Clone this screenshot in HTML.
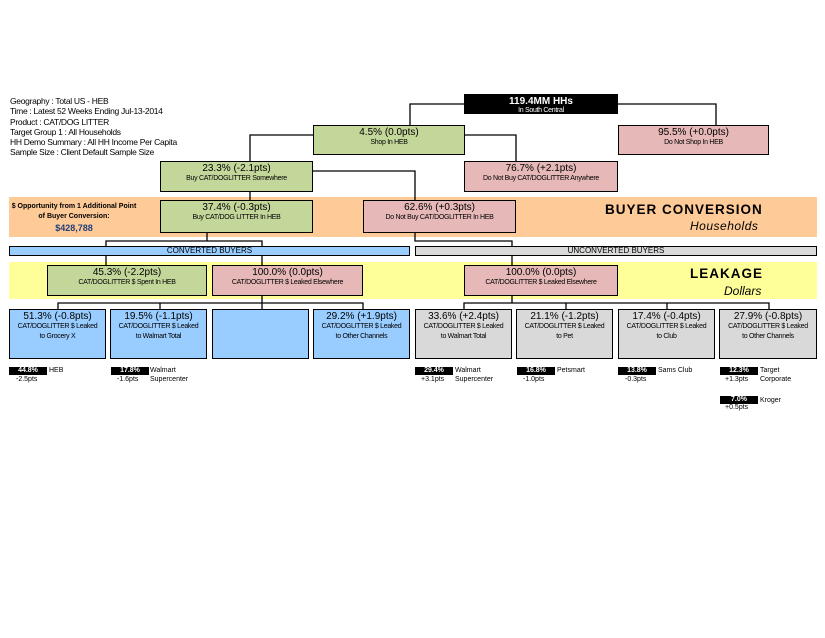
<!DOCTYPE html>
<html><head><meta charset="utf-8"><style>
body{margin:0;width:825px;height:638px;background:#fff;position:relative;overflow:hidden;font-family:"Liberation Sans",Arial,sans-serif;}
.a{position:absolute;box-sizing:border-box;}
.b{position:absolute;box-sizing:border-box;border:1.5px solid #000;text-align:center;color:#000;}
.b .t{font-size:10px;line-height:11px;margin-top:1px;}
.b .s{font-size:7px;line-height:10px;letter-spacing:-0.3px;}
.g{background:#c4d79b}.p{background:#e6b8b7}.bl{background:#99ccff}.gr{background:#d9d9d9}
.k{position:absolute;background:#000;color:#fff;font-size:7px;font-weight:bold;text-align:center;width:38px;height:8px;line-height:8px;}
.sm{position:absolute;font-size:7px;line-height:9px;color:#000;}
</style></head><body>
<div class="a" style="left:10px;top:96px;font-size:8.5px;line-height:10.3px;letter-spacing:-0.3px;">Geography : Total US - HEB<br>Time : Latest 52 Weeks Ending Jul-13-2014<br>Product : CAT/DOG LITTER<br>Target Group 1 : All Households<br>HH Demo Summary : All HH Income Per Capita<br>Sample Size : Client Default Sample Size</div>

<div class="a" style="left:9px;top:197px;width:808px;height:40px;background:#fdca98"></div>
<div class="a" style="left:9px;top:262px;width:808px;height:37px;background:#ffff99"></div>

<div class="a" style="left:9px;top:202px;width:130px;text-align:center;font-size:7px;font-weight:bold;line-height:10px;">$ Opportunity from 1 Additional Point<br>of Buyer Conversion:</div>
<div class="a" style="left:9px;top:223px;width:130px;text-align:center;font-size:9px;color:#1f3f7a;font-weight:bold;">$428,788</div>
<div class="a" style="left:605px;top:202px;font-size:13.5px;font-weight:bold;letter-spacing:1px;">BUYER CONVERSION</div>
<div class="a" style="left:690px;top:219px;font-size:12px;font-style:italic;letter-spacing:0.5px;">Households</div>
<div class="a" style="left:690px;top:266px;font-size:13.5px;font-weight:bold;letter-spacing:1px;">LEAKAGE</div>
<div class="a" style="left:724px;top:284px;font-size:12px;font-style:italic;">Dollars</div>

<svg class="a" style="left:0;top:0" width="825" height="638">
<g stroke="#000" stroke-width="1.3" fill="none">
<polyline points="464,104 410,104 410,125"/>
<polyline points="618,104 716,104 716,125"/>
<polyline points="313,135 250,135 250,161"/>
<polyline points="465,135 516,135 516,161"/>
<polyline points="313,171 415,171 415,200"/>
<line x1="250" y1="192" x2="250" y2="200"/>
<polyline points="207,233 207,241"/>
<polyline points="106,246 106,241 262,241 262,246"/>
<polyline points="415,233 415,241 512,241 512,246"/>
<line x1="106" y1="256" x2="106" y2="265"/>
<line x1="262" y1="256" x2="262" y2="265"/>
<line x1="512" y1="256" x2="512" y2="265"/>
<line x1="262" y1="296" x2="262" y2="303"/>
<polyline points="58,309 58,303 363,303 363,309"/>
<line x1="160" y1="303" x2="160" y2="309"/>
<line x1="262" y1="303" x2="262" y2="309"/>
<line x1="512" y1="296" x2="512" y2="303"/>
<polyline points="464,309 464,303 769,303 769,309"/>
<line x1="566" y1="303" x2="566" y2="309"/>
<line x1="667" y1="303" x2="667" y2="309"/>
</g></svg>

<div class="b" style="left:464px;top:94px;width:154px;height:20px;background:#000;color:#fff;"><div class="t" style="font-weight:bold;font-size:10px;">119.4MM HHs</div><div class="s" style="line-height:7px;">In South Central</div></div>
<div class="b g" style="left:313px;top:125px;width:152px;height:30px;"><div class="t">4.5% (0.0pts)</div><div class="s">Shop In HEB</div></div>
<div class="b p" style="left:618px;top:125px;width:151px;height:30px;"><div class="t">95.5% (+0.0pts)</div><div class="s">Do Not Shop In HEB</div></div>
<div class="b g" style="left:160px;top:161px;width:153px;height:31px;"><div class="t">23.3% (-2.1pts)</div><div class="s">Buy CAT/DOGLITTER Somewhere</div></div>
<div class="b p" style="left:464px;top:161px;width:154px;height:31px;"><div class="t">76.7% (+2.1pts)</div><div class="s">Do Not Buy CAT/DOGLITTER Anywhere</div></div>
<div class="b g" style="left:160px;top:200px;width:153px;height:33px;"><div class="t">37.4% (-0.3pts)</div><div class="s">Buy CAT/DOG LITTER In HEB</div></div>
<div class="b p" style="left:363px;top:200px;width:153px;height:33px;"><div class="t">62.6% (+0.3pts)</div><div class="s">Do Not Buy CAT/DOGLITTER In HEB</div></div>

<div class="b bl" style="left:9px;top:246px;width:401px;height:10px;font-size:8px;line-height:8px;">CONVERTED BUYERS</div>
<div class="b gr" style="left:415px;top:246px;width:402px;height:10px;font-size:8px;line-height:8px;">UNCONVERTED BUYERS</div>

<div class="b g" style="left:47px;top:265px;width:160px;height:31px;"><div class="t">45.3% (-2.2pts)</div><div class="s">CAT/DOGLITTER $ Spent In HEB</div></div>
<div class="b p" style="left:212px;top:265px;width:151px;height:31px;"><div class="t">100.0% (0.0pts)</div><div class="s">CAT/DOGLITTER $ Leaked Elsewhere</div></div>
<div class="b p" style="left:464px;top:265px;width:154px;height:31px;"><div class="t">100.0% (0.0pts)</div><div class="s">CAT/DOGLITTER $ Leaked Elsewhere</div></div>

<div class="b bl" style="left:9px;top:309px;width:97px;height:50px;"><div class="t">51.3% (-0.8pts)</div><div class="s">CAT/DOGLITTER $ Leaked<br>to Grocery X</div></div>
<div class="b bl" style="left:110px;top:309px;width:97px;height:50px;"><div class="t">19.5% (-1.1pts)</div><div class="s">CAT/DOGLITTER $ Leaked<br>to Walmart Total</div></div>
<div class="b bl" style="left:212px;top:309px;width:97px;height:50px;"></div>
<div class="b bl" style="left:313px;top:309px;width:97px;height:50px;"><div class="t">29.2% (+1.9pts)</div><div class="s">CAT/DOGLITTER $ Leaked<br>to Other Channels</div></div>
<div class="b gr" style="left:415px;top:309px;width:97px;height:50px;"><div class="t">33.6% (+2.4pts)</div><div class="s">CAT/DOGLITTER $ Leaked<br>to Walmart Total</div></div>
<div class="b gr" style="left:516px;top:309px;width:97px;height:50px;"><div class="t">21.1% (-1.2pts)</div><div class="s">CAT/DOGLITTER $ Leaked<br>to Pet</div></div>
<div class="b gr" style="left:618px;top:309px;width:97px;height:50px;"><div class="t">17.4% (-0.4pts)</div><div class="s">CAT/DOGLITTER $ Leaked<br>to Club</div></div>
<div class="b gr" style="left:719px;top:309px;width:98px;height:50px;"><div class="t">27.9% (-0.8pts)</div><div class="s">CAT/DOGLITTER $ Leaked<br>to Other Channels</div></div>

<div class="k" style="left:9px;top:367px;">44.8%</div><div class="sm" style="left:16px;top:375px;">-2.5pts</div><div class="sm" style="left:49px;top:366px;">HEB</div>
<div class="k" style="left:111px;top:367px;">17.8%</div><div class="sm" style="left:117px;top:375px;">-1.6pts</div><div class="sm" style="left:150px;top:366px;">Walmart<br>Supercenter</div>
<div class="k" style="left:415px;top:367px;">29.4%</div><div class="sm" style="left:421px;top:375px;">+3.1pts</div><div class="sm" style="left:455px;top:366px;">Walmart<br>Supercenter</div>
<div class="k" style="left:517px;top:367px;">16.8%</div><div class="sm" style="left:523px;top:375px;">-1.0pts</div><div class="sm" style="left:557px;top:366px;">Petsmart</div>
<div class="k" style="left:618px;top:367px;">13.8%</div><div class="sm" style="left:625px;top:375px;">-0.3pts</div><div class="sm" style="left:658px;top:366px;">Sams Club</div>
<div class="k" style="left:720px;top:367px;">12.3%</div><div class="sm" style="left:725px;top:375px;">+1.3pts</div><div class="sm" style="left:760px;top:366px;">Target<br>Corporate</div>
<div class="k" style="left:720px;top:396px;">7.0%</div><div class="sm" style="left:725px;top:403px;">+0.5pts</div><div class="sm" style="left:760px;top:396px;">Kroger</div>
</body></html>
